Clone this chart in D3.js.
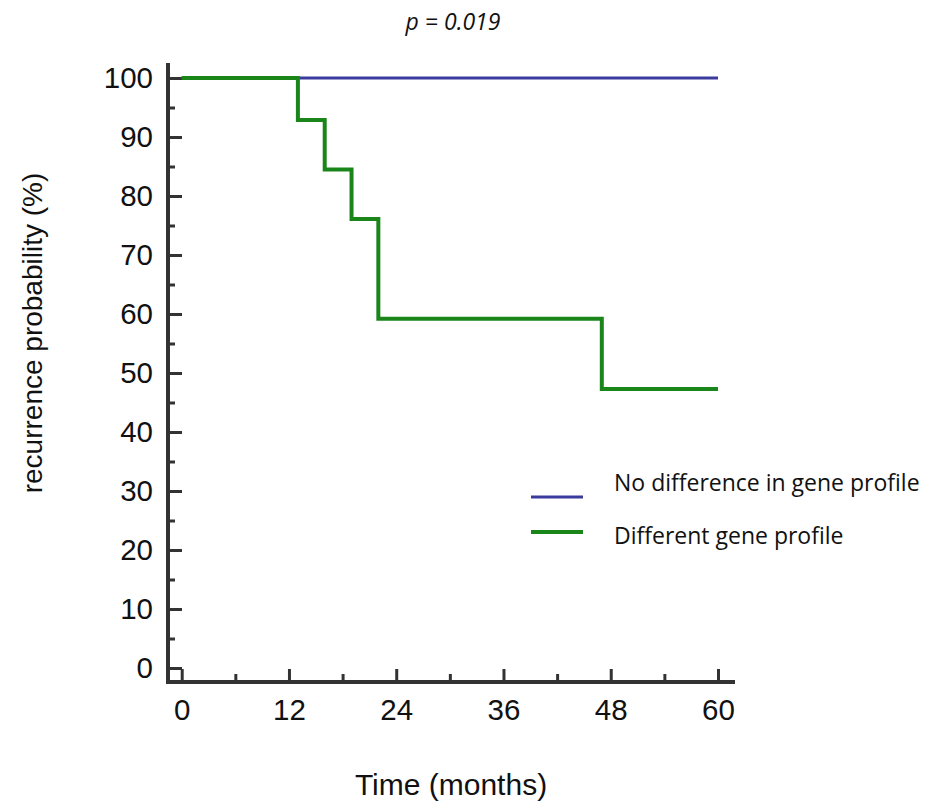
<!DOCTYPE html>
<html>
<head>
<meta charset="utf-8">
<script src="https://cdn.jsdelivr.net/npm/d3@7"></script>
<style>
  body { margin: 0; background: #fff; }
  svg { display: block; }
  .axis text { font-family: "Liberation Sans", Arial, sans-serif; font-size: 29.5px; fill: #111; }
  .axis .tick line { stroke: #333; stroke-width: 3; }
  .title { font-family: "Liberation Sans", Arial, sans-serif; fill: #111; }
  .legend text, .pval { font-family: "Open Sans", sans-serif; fill: #111; }
</style>
</head>
<body>
<div id="chart"></div>
<script>
// Data
const months = [0, 13, 16, 19, 22, 47, 60];
const diffProfile = [100, 92.9, 84.5, 76.1, 59.2, 47.3, 47.3];
const noDiffMonths = [0, 60];
const noDiffProfile = [100, 100];
const xTicks = [0, 12, 24, 36, 48, 60];
const yTicks = [0, 10, 20, 30, 40, 50, 60, 70, 80, 90, 100];
const seriesNames = ["No difference in gene profile", "Different gene profile"];
const seriesColors = ["#3b3b9e", "#1a861a"];

const width = 934;
const height = 805;

const svg = d3.select("#chart")
    .append("svg")
    .attr("width", width)
    .attr("height", height);

// Scales
const x = d3.scaleLinear().domain([0, 60]).range([181.7, 718]);
const y = d3.scaleLinear().domain([0, 100]).range([668, 78]);

const axisX = 168; // y-axis line position
const axisY = 682; // x-axis line position

// minor ticks
svg.append("g")
    .attr("class", "axis")
    .attr("transform", `translate(${axisX},0)`)
    .call(d3.axisLeft(y).tickValues(d3.range(5, 100, 10)).tickSize(-7).tickFormat(""))
    .call(g => g.select(".domain").remove());
svg.append("g")
    .attr("class", "axis")
    .attr("transform", `translate(0,${axisY})`)
    .call(d3.axisBottom(x).tickValues(d3.range(6, 60, 12)).tickSize(-8).tickFormat(""))
    .call(g => g.select(".domain").remove());

// major ticks + labels
svg.append("g")
    .attr("class", "axis")
    .attr("transform", `translate(${axisX},0)`)
    .call(d3.axisLeft(y).tickValues(yTicks).tickSize(-14).tickPadding(15))
    .call(g => g.select(".domain").remove());
svg.append("g")
    .attr("class", "axis")
    .attr("transform", `translate(0,${axisY})`)
    .call(d3.axisBottom(x).tickValues(xTicks).tickSize(-13).tickPadding(17))
    .call(g => g.select(".domain").remove());

// axis lines
svg.append("path")
    .attr("d", `M${axisX},63V${axisY}H735`)
    .attr("fill", "none")
    .attr("stroke", "#333")
    .attr("stroke-width", 4);

// lines
const line = d3.line()
    .x(d => x(d[0]))
    .y(d => y(d[1]))
    .curve(d3.curveStepAfter);

svg.append("path")
    .datum(noDiffMonths.map((m, i) => [m, noDiffProfile[i]]))
    .attr("d", line)
    .attr("fill", "none")
    .attr("stroke", seriesColors[0])
    .attr("stroke-width", 3);

svg.append("path")
    .datum(months.map((m, i) => [m, diffProfile[i]]))
    .attr("d", line)
    .attr("fill", "none")
    .attr("stroke", seriesColors[1])
    .attr("stroke-width", 4);

// axis titles
svg.append("text")
    .attr("class", "title")
    .attr("transform", `translate(42,333) rotate(-90)`)
    .attr("text-anchor", "middle")
    .style("font-size", "28px")
    .text("recurrence probability (%)");

svg.append("text")
    .attr("class", "title")
    .attr("x", 451)
    .attr("y", 795)
    .attr("text-anchor", "middle")
    .style("font-size", "30px")
    .text("Time (months)");

// p value
svg.append("text")
    .attr("class", "pval")
    .attr("x", 453)
    .attr("y", 30)
    .attr("text-anchor", "middle")
    .style("font-style", "italic")
    .style("font-size", "23px")
    .text("p = 0.019");

// legend
const legend = svg.append("g").attr("class", "legend");
const legendY = [497, 532];
seriesNames.forEach((name, i) => {
    legend.append("line")
        .attr("x1", 531).attr("x2", 583)
        .attr("y1", legendY[i]).attr("y2", legendY[i])
        .attr("stroke", seriesColors[i])
        .attr("stroke-width", i === 0 ? 3 : 4);
    legend.append("text")
        .attr("x", 614)
        .attr("y", [491, 544][i])
        .style("font-size", "23px")
        .text(name);
});
</script>
</body>
</html>
